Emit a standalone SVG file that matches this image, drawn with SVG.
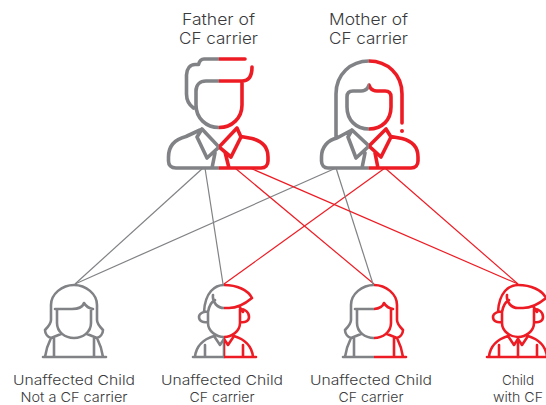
<svg xmlns="http://www.w3.org/2000/svg" width="546" height="405" viewBox="0 0 546 405">
<style>
text{font-family:Inter,"Open Sans","Liberation Sans",sans-serif;fill:#3a3a3c;text-anchor:middle;font-weight:300}
.t{font-size:16px}
.s{font-size:13.6px}
.shape{fill:none;stroke-linecap:round;stroke-linejoin:round}
.big{stroke-width:3.6}
.small{stroke-width:2.6}
.g{stroke:#808285}
.r{stroke:#ed1c24}
.c{fill:none;stroke-width:1.2}
</style>
<defs>
<clipPath id="lf"><rect x="0" y="0" width="219" height="405"/></clipPath>
<clipPath id="rf"><rect x="219" y="0" width="327" height="405"/></clipPath>
<clipPath id="lm"><rect x="0" y="0" width="369" height="405"/></clipPath>
<clipPath id="rm"><rect x="369" y="0" width="177" height="405"/></clipPath>
<clipPath id="lb"><rect x="0" y="0" width="224" height="405"/></clipPath>
<clipPath id="rb"><rect x="224" y="0" width="322" height="405"/></clipPath>
<clipPath id="lc"><rect x="0" y="0" width="374" height="405"/></clipPath>
<clipPath id="rc"><rect x="374" y="0" width="172" height="405"/></clipPath>
<path id="father" d="M245 59H204Q200 59 198.500 64.500H195C190 64.500 186.500 69 186.500 75V94Q186.500 103 193.500 108M252 67C252 76 249 81 242 81H206C200 81 196 85 196 91V105C196 118 206 127.500 219 127.500S242 118 242 105V81M219 168H176C171 168 168.500 165 168.500 161V157C168.500 145 176 139 186 136.500L200 130M202 129L219 147L207 158L197 137ZM215 153L212 168M237 128L219 147L231 157L241 137ZM225 152L229 168M241 136.500L252 138.500C262 141 268 147 268 157V161C268 165 265.500 168 261 168H219"/>
<path id="mother" d="M336 137V94C336 74 351 61 369 61S402 74 402 94V123M369 85Q367 91 361 91H353C349 91 347 93 347 97V107C347 120 356 129 369 129S391 120 391 107V97C391 93 389 91 385 91H377Q371 91 369 85ZM369 168H328C324 168 321.500 165 321.500 161V157C321.500 147 328 140 337 138L350 131M352 130L369 146L356 158L348 137ZM365 153L362 168M386 129L369 146L381 157L391 137ZM375 153L378 168M391 136.500L402 138.500C412 141 418 147 418 157V161C418 165 415.500 168 411 168H369"/>
<path id="girl" d="M-31 357H32M-19 309H-2Q8 309 10 303Q13 308 19 309M-17 309V323C-17 332 -9 338 0 338S17 332 17 323V309M-23 305C-23 294 -12 285 0 285S23 294 23 305V320C23 324 26 327 29 330C29 334 26 337 23 338L13 334M-23 305V320C-23 324 -26 327 -29 330C-29 334 -26 337 -23 338L-13 334M-20 338V357M20 338V357M-23 338C-26 344 -28 350 -29 357M23 338C26 344 28 350 29 357"/>
<path id="boy" d="M-31 357H32M28 298C24 290 13 285 0 285C-9 285 -19 292 -20 312M28 298C22 303 14 308 5 308H0C-6 308 -12 303 -11 295M-9 300C-13 302 -15 306 -16 312V323C-16 331 -8 337 0 337S16 331 16 323V309M-16 312C-21 311 -25 314 -25 317C-25 321 -21 323 -16 322M16 309C21 309 25 312 25 317C25 321 21 323 16 322M15 306L19 312M-10 336L-4 345L0 339L4 345L10 336M-10 336C-20 339 -28 346 -29 357M10 336C20 339 28 346 29 357M-19 345V357M19 345V357"/>
</defs>
<g id="connectors">
<line class="c g" x1="203" y1="168" x2="75" y2="284"/>
<line class="c g" x1="336" y1="168" x2="75" y2="284"/>
<line class="c g" x1="205" y1="168" x2="223" y2="284"/>
<line class="c r" x1="385" y1="168" x2="224" y2="284"/>
<line class="c r" x1="235" y1="168" x2="374" y2="284"/>
<line class="c g" x1="336" y1="168" x2="373" y2="284"/>
<line class="c r" x1="250" y1="168" x2="518" y2="284"/>
<line class="c r" x1="385" y1="168" x2="518" y2="284"/>
</g>
<g id="father-node">
<g clip-path="url(#lf)"><use href="#father" class="shape big g"/></g>
<g clip-path="url(#rf)"><use href="#father" class="shape big r"/></g>
<text class="t" x="218.500" y="24.500" textLength="73" lengthAdjust="spacingAndGlyphs">Father of</text>
<text class="t" x="218.500" y="44" textLength="79" lengthAdjust="spacingAndGlyphs">CF carrier</text>
</g>
<g id="mother-node">
<g clip-path="url(#lm)"><use href="#mother" class="shape big g"/></g>
<g clip-path="url(#rm)"><use href="#mother" class="shape big r"/></g>
<circle cx="402" cy="131" r="2" fill="#ed1c24"/>
<text class="t" x="368.500" y="24.500" textLength="79" lengthAdjust="spacingAndGlyphs">Mother of</text>
<text class="t" x="368.500" y="44" textLength="79" lengthAdjust="spacingAndGlyphs">CF carrier</text>
</g>
<g id="child-1">
<use href="#girl" x="74" class="shape small g"/>
<text class="s" x="74" y="385" textLength="122" lengthAdjust="spacingAndGlyphs">Unaffected Child</text>
<text class="s" x="74" y="401.500" textLength="107" lengthAdjust="spacingAndGlyphs">Not a CF carrier</text>
</g>
<g id="child-2">
<g clip-path="url(#lb)"><use href="#boy" x="224" class="shape small g"/><line x1="224" y1="339" x2="224" y2="357" class="shape small g"/></g>
<g clip-path="url(#rb)"><use href="#boy" x="224" class="shape small r"/><line x1="224" y1="339" x2="224" y2="357" class="shape small r"/></g>
<text class="s" x="222" y="385" textLength="122" lengthAdjust="spacingAndGlyphs">Unaffected Child</text>
<text class="s" x="222" y="401.500" textLength="65" lengthAdjust="spacingAndGlyphs">CF carrier</text>
</g>
<g id="child-3">
<g clip-path="url(#lc)"><use href="#girl" x="374" class="shape small g"/></g>
<g clip-path="url(#rc)"><use href="#girl" x="374" class="shape small r"/></g>
<text class="s" x="371" y="385" textLength="122" lengthAdjust="spacingAndGlyphs">Unaffected Child</text>
<text class="s" x="371" y="401.500" textLength="65" lengthAdjust="spacingAndGlyphs">CF carrier</text>
</g>
<g id="child-4">
<use href="#boy" x="518" class="shape small r"/>
<line x1="518" y1="339" x2="518" y2="357" class="shape small r"/>
<text class="s" x="518" y="385" textLength="32" lengthAdjust="spacingAndGlyphs">Child</text>
<text class="s" x="518" y="401.500" textLength="50" lengthAdjust="spacingAndGlyphs">with CF</text>
</g>
</svg>
